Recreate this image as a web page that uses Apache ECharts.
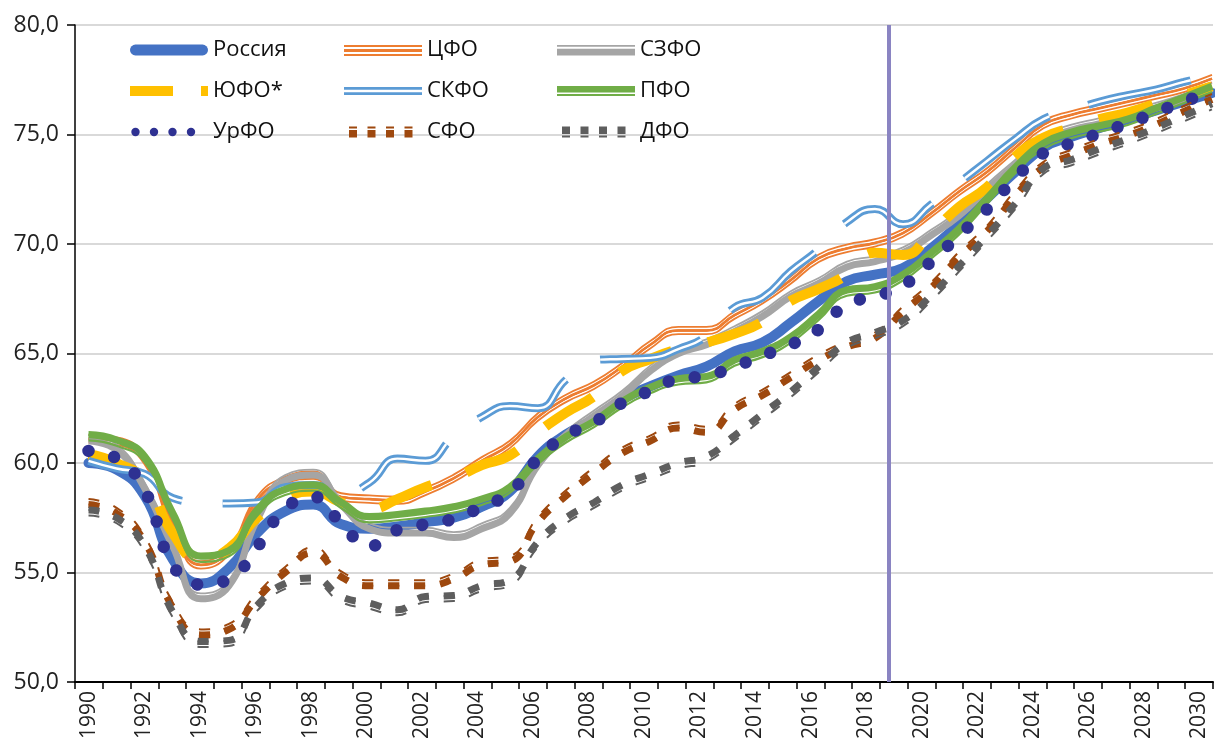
<!DOCTYPE html>
<html>
<head>
<meta charset="utf-8">
<script src="https://cdn.jsdelivr.net/npm/echarts@6/dist/echarts.min.js"></script>
<style>
html,body{margin:0;padding:0;background:#fff;}
#chart{width:1215px;height:745px;}
</style>
</head>
<body>
<div id="chart"></div>
<script>
// ---- data ----
const years = ['1990','1991','1992','1993','1994','1995','1996','1997','1998','1999',
  '2000','2001','2002','2003','2004','2005','2006','2007','2008','2009',
  '2010','2011','2012','2013','2014','2015','2016','2017','2018','2019',
  '2020','2021','2022','2023','2024','2025','2026','2027','2028','2029','2030'];

const russia = [60.0,59.7,58.5,55.6,54.5,55.2,56.8,57.8,58.1,57.2,
  57.0,57.1,57.3,57.5,58.0,58.7,60.3,61.3,62.0,62.9,
  63.5,64.0,64.4,65.1,65.5,66.4,67.4,68.3,68.6,68.9,
  69.8,70.9,72.1,73.3,74.4,74.9,75.3,75.7,76.1,76.5,76.9];
const cfo = [61.1,61.0,60.1,57.1,55.35,56.0,58.3,59.2,59.45,58.45,
  58.35,58.3,58.7,59.3,60.1,60.85,62.1,62.95,63.55,64.4,
  65.4,66.05,66.05,66.75,67.45,68.35,69.35,69.8,70.05,70.5,
  71.4,72.4,73.3,74.4,75.45,75.9,76.2,76.5,76.8,77.1,77.55];
const szfo = [61.0,60.6,58.85,56.2,53.8,54.4,57.4,59.2,59.45,58.1,
  57.0,56.8,56.8,56.6,57.0,57.7,59.9,61.2,62.15,63.05,
  64.2,65.0,65.4,66.0,66.7,67.6,68.2,68.95,69.2,69.6,
  70.4,71.3,72.5,73.6,74.7,75.2,75.5,75.85,76.2,76.6,77.1];
const yufo = [60.4,60.0,59.2,56.8,55.55,56.1,57.5,58.4,58.7,58.2,
  57.9,58.35,58.9,59.3,59.9,60.35,61.4,62.3,63.05,64.2,
  64.75,65.2,65.5,65.9,66.45,67.4,67.95,68.6,69.6,69.5,
  70.5,71.7,72.6,74.0,74.85,75.3,75.7,76.0,76.4,76.8,77.2];
const skfo = [60.1,59.75,59.5,58.4,58.2,58.15,58.2,58.9,59.0,58.6,
  59.1,60.2,60.1,61.2,62.1,62.6,62.5,63.8,64.7,64.75,
  64.8,65.2,65.8,67.1,67.55,68.75,69.75,71.0,71.6,70.9,
  71.8,72.8,73.8,74.8,75.7,76.1,76.5,76.8,77.05,77.4,77.7];
const pfo = [61.3,61.05,60.3,57.7,55.75,56.0,57.85,58.8,59.0,58.2,
  57.55,57.65,57.8,58.0,58.35,58.9,60.2,61.2,61.9,62.8,
  63.45,63.85,63.95,64.7,65.1,65.75,66.8,67.9,68.05,68.6,
  69.6,70.7,72.1,73.5,74.6,75.1,75.4,75.7,76.2,76.7,77.2];
const urfo = [60.55,60.2,58.75,55.35,54.45,54.7,56.15,57.9,58.45,57.25,
  56.2,56.95,57.2,57.45,58.0,58.65,60.2,61.25,61.85,62.75,
  63.3,63.85,63.98,64.4,64.9,65.4,66.1,67.25,67.6,68.1,
  69.2,70.4,71.6,73.0,74.15,74.6,75.05,75.5,76.0,76.5,76.95];
const sfo = [58.1,57.7,56.4,53.4,52.15,52.4,53.8,55.0,55.9,54.8,
  54.4,54.4,54.4,54.7,55.35,55.5,57.3,58.5,59.55,60.45,
  61.0,61.6,61.4,62.45,63.1,63.9,64.7,65.3,65.7,66.9,
  68.0,69.4,70.6,72.2,73.5,74.05,74.55,74.95,75.45,76.05,76.6];
const dfo = [57.85,57.5,56.2,53.2,51.85,51.9,53.5,54.5,54.75,53.9,
  53.6,53.3,53.9,53.95,54.4,54.65,56.4,57.5,58.2,59.0,
  59.5,60.0,60.3,61.25,62.25,63.25,64.4,65.5,65.95,66.5,
  67.65,69.0,70.4,71.85,73.45,73.85,74.35,74.8,75.3,75.85,76.4];

const forecastStart = 2018.5;
const yMin = 50, yMax = 80, yStep = 5;

// ---- styles ----
const C = {ru:'#4472C4', cfo:'#ED7D31', szfo:'#A5A5A5', yufo:'#FFC000', skfo:'#5B9BD5',
  pfo:'#70AD47', urfo:'#2E3192', sfo:'#9E480E', dfo:'#5E5E5E', vline:'#8A84C2'};
const FONT = 'Open Sans';

function ser(name, arr, ls) {
  return {
    name: name, type: 'line', xAxisIndex: 1, yAxisIndex: 0,
    data: years.map((y, i) => [Number(y), arr[i]]),
    smooth: 0.5, symbol: 'none', showSymbol: false, silent: true,
    lineStyle: ls, emphasis: {disabled: true}
  };
}

const series = [
  ser('Россия', russia, {color: C.ru, width: 10, cap: 'round', join: 'round'}),
  ser('ЦФО', cfo, {color: C.cfo, width: 2.6}),
  ser('ЦФО_a', cfo, {color: C.cfo, width: 1.8, shadowColor: C.cfo, shadowBlur: 0, shadowOffsetY: -3.7}),
  ser('ЦФО_b', cfo, {color: C.cfo, width: 1.8, shadowColor: C.cfo, shadowBlur: 0, shadowOffsetY: 3.7}),
  ser('СЗФО_t', szfo, {color: C.szfo, width: 1.8, shadowColor: C.szfo, shadowBlur: 0, shadowOffsetY: -5.4}),
  ser('СЗФО', szfo, {color: C.szfo, width: 7}),
  ser('ЮФО*', yufo, {color: C.yufo, width: 10, type: [56, 37], cap: 'butt'}),
  ser('СКФО', skfo, {color: C.skfo, width: 8, type: [105, 41], cap: 'butt'}),
  ser('СКФО_w', skfo, {color: '#FFFFFF', width: 2.4, type: [105, 41], cap: 'butt'}),
  ser('ПФО_t', pfo, {color: C.pfo, width: 2.2, shadowColor: C.pfo, shadowBlur: 0, shadowOffsetY: 5.8}),
  ser('ПФО', pfo, {color: C.pfo, width: 7.2}),
  ser('УрФО', urfo, {color: C.urfo, width: 12.5, type: [0.01, 26.5], cap: 'round'}),
  ser('СФО_t', sfo, {color: C.sfo, width: 2, type: [11, 15], shadowColor: C.sfo, shadowBlur: 0, shadowOffsetY: -5.5}),
  ser('СФО', sfo, {color: C.sfo, width: 7, type: [11, 15]}),
  ser('ДФО_t', dfo, {color: C.dfo, width: 2, type: [11, 15], shadowColor: C.dfo, shadowBlur: 0, shadowOffsetY: 5.5}),
  ser('ДФО', dfo, {color: C.dfo, width: 7, type: [11, 15]})
];
series[series.length - 1].markLine = {
  silent: true, symbol: 'none', animation: false,
  label: {show: false},
  lineStyle: {color: C.vline, width: 4, type: 'solid'},
  emphasis: {disabled: true},
  data: [{xAxis: forecastStart}]
};

// ---- legend icons (78 x 20 box) ----
const B = 'M0 0M78 20';
function circ(cx, cy, r) { return 'M' + (cx - r) + ' ' + cy + 'A' + r + ' ' + r + ' 0 1 0 ' + (cx + r) + ' ' + cy + 'A' + r + ' ' + r + ' 0 1 0 ' + (cx - r) + ' ' + cy + 'Z'; }
function rect(x, y, w, h) { return 'M' + x + ' ' + y + 'H' + (x + w) + 'V' + (y + h) + 'H' + x + 'Z'; }
const icons = {
  'Россия': B + 'M5 4.5H73A5.5 5.5 0 0 1 73 15.5H5A5.5 5.5 0 0 1 5 4.5Z',
  'ЦФО': B + rect(0, 5, 78, 2) + rect(0, 9, 78, 3) + rect(0, 14, 78, 2),
  'СЗФО': B + rect(0, 5, 78, 1.8) + rect(0, 8.8, 78, 6.7),
  'ЮФО*': B + rect(0, 5, 43, 10) + rect(71, 5, 7, 10),
  'СКФО': B + rect(0, 6, 78, 2.8) + rect(0, 11.2, 78, 2.8),
  'ПФО': B + rect(0, 5, 78, 6.5) + rect(0, 13, 78, 2),
  'УрФО': B + circ(5.5, 10, 4.2) + circ(24, 10, 4.2) + circ(42.5, 10, 4.2) + circ(61, 10, 4.2),
  'СФО': B + [5, 23.5, 42, 60.5].map(x => rect(x, 4.5, 8, 2) + rect(x, 8, 8, 7.5)).join(''),
  'ДФО': B + [5, 23.5, 42, 60.5].map(x => rect(x, 4.5, 8, 7.5) + rect(x, 13.5, 8, 2)).join('')
};
const iconColor = {'Россия': C.ru, 'ЦФО': C.cfo, 'СЗФО': C.szfo, 'ЮФО*': C.yufo, 'СКФО': C.skfo,
  'ПФО': C.pfo, 'УрФО': C.urfo, 'СФО': C.sfo, 'ДФО': C.dfo};
function litem(n) {
  return {name: n, icon: 'path://' + icons[n], itemStyle: {color: iconColor[n], borderWidth: 0, opacity: 1}};
}
function legendCol(left, names) {
  return {
    orient: 'vertical', left: left, top: 39, padding: 0, itemGap: 19,
    itemWidth: 78, itemHeight: 20, selectedMode: false,
    textStyle: {fontFamily: FONT, fontSize: 22, color: '#111'},
    data: names.map(litem)
  };
}

const option = {
  animation: false,
  backgroundColor: '#ffffff',
  grid: {left: 75, right: 2, top: 25, bottom: 63, containLabel: false},
  legend: [
    legendCol(130, ['Россия', 'ЮФО*', 'УрФО']),
    legendCol(344, ['ЦФО', 'СКФО', 'СФО']),
    legendCol(557, ['СЗФО', 'ПФО', 'ДФО'])
  ],
  xAxis: [
    {
      type: 'category', data: years, boundaryGap: true,
      axisLine: {lineStyle: {color: '#000', width: 2}},
      axisTick: {show: true, interval: 0, length: 7, lineStyle: {color: '#000', width: 1.5}},
      axisLabel: {interval: 1, rotate: 90, margin: 9, fontFamily: FONT, fontSize: 21, color: '#222'},
      splitLine: {show: false}
    },
    {
      type: 'value', min: 1989.519, max: 2030.036, show: false,
      splitLine: {show: false}
    }
  ],
  yAxis: {
    type: 'value', min: yMin, max: yMax, interval: yStep,
    axisLine: {show: true, lineStyle: {color: '#000', width: 1.5}},
    axisTick: {show: true, length: 8, lineStyle: {color: '#000', width: 1.5}},
    axisLabel: {margin: 16, fontFamily: FONT, fontSize: 23, color: '#222',
      formatter: v => v.toFixed(1).replace('.', ',')},
    splitLine: {show: true, lineStyle: {color: '#D9D9D9', width: 2}}
  },
  series: series
};

const chart = echarts.init(document.getElementById('chart'), null, {renderer: 'canvas'});
chart.setOption(option);
</script>
</body>
</html>
